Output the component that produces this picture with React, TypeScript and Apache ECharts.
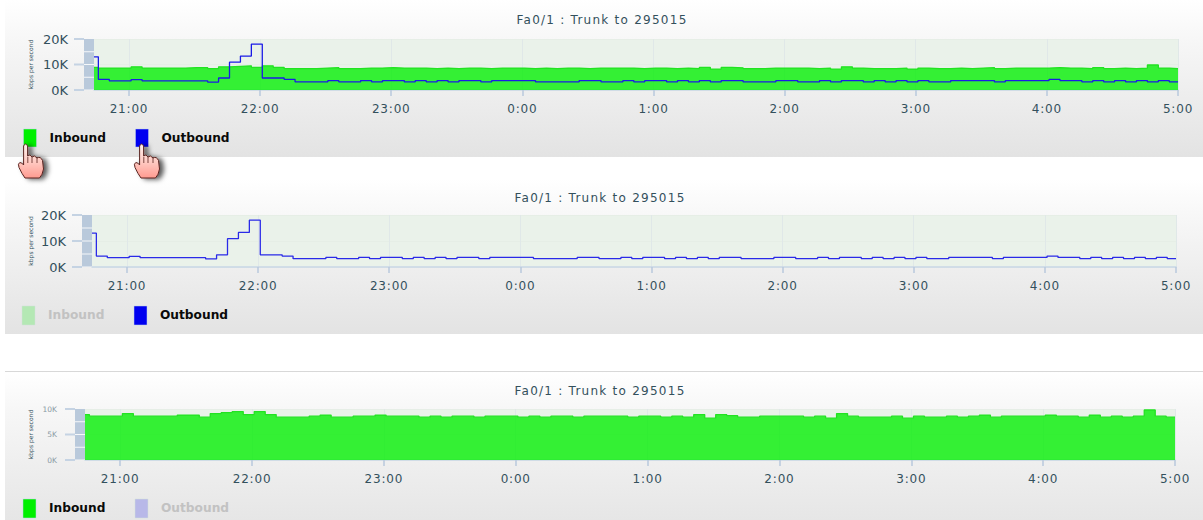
import React, { useEffect, useRef } from "react";
import * as echarts from "echarts";

const TITLE = "Fa0/1 : Trunk to 295015";
const Y_NAME = "kbps per second";
const SERIES_IN = "Inbound";
const SERIES_OUT = "Outbound";
const HOUR_TICKS = [0, 60, 120, 180, 240, 300, 360, 420, 480];
const HOUR_LABELS = ["21:00", "22:00", "23:00", "0:00", "1:00", "2:00", "3:00", "4:00", "5:00"];

// Left edge of every sample, minutes after 21:00 (first partial sample, then 5 minute samples)
const SAMPLE_MINUTES = [
  -16, -14, -9, -4, 1, 6, 11, 16, 21, 26, 31, 36, 41, 46, 51, 56, 61, 66, 71, 76, 81, 86, 91, 96, 101,
  106, 111, 116, 121, 126, 131, 136, 141, 146, 151, 156, 161, 166, 171, 176, 181, 186, 191, 196, 201,
  206, 211, 216, 221, 226, 231, 236, 241, 246, 251, 256, 261, 266, 271, 276, 281, 286, 291, 296, 301,
  306, 311, 316, 321, 326, 331, 336, 341, 346, 351, 356, 361, 366, 371, 376, 381, 386, 391, 396, 401,
  406, 411, 416, 421, 426, 431, 436, 441, 446, 451, 456, 461, 466, 471, 476, 480,
];

// kbps per second, in thousands
const INBOUND = [
  8.9, 8.6, 8.6, 8.6, 9.1, 8.6, 8.6, 8.6, 8.6, 8.8, 8.8, 8.4, 9.1, 9.3, 9.5, 8.9, 9.5, 8.9, 8.4, 8.4,
  8.4, 8.6, 8.8, 8.4, 8.4, 8.6, 8.6, 8.8, 8.6, 8.6, 8.6, 8.4, 8.6, 8.4, 8.6, 8.6, 8.4, 8.6, 8.6, 8.6,
  8.4, 8.6, 8.4, 8.6, 8.6, 8.4, 8.6, 8.6, 8.6, 8.6, 8.4, 8.6, 8.6, 8.4, 8.6, 8.4, 8.9, 8.2, 8.9, 8.7,
  8.4, 8.4, 8.6, 8.6, 8.6, 8.6, 8.4, 8.6, 8.2, 9.1, 8.6, 8.4, 8.4, 8.4, 8.6, 8.2, 8.6, 8.4, 8.4, 8.6,
  8.4, 8.6, 8.8, 8.4, 8.6, 8.6, 8.6, 8.6, 8.8, 8.6, 8.6, 8.4, 8.8, 8.4, 8.6, 8.4, 8.6, 9.8, 8.6, 8.4, 8.4,
];
const OUTBOUND = [
  13, 4.2, 3.6, 3.6, 4.1, 3.6, 3.6, 3.6, 3.6, 3.6, 3.6, 3.1, 4.7, 10.9, 13.3, 18, 4.7, 4.7, 4.2, 3.2,
  3.2, 3.2, 3.7, 3.2, 3.2, 3.7, 3.2, 3.7, 3.7, 3.2, 3.7, 3.2, 3.7, 3.2, 3.7, 3.7, 3.2, 3.7, 3.7, 3.7,
  3.7, 3.2, 3.2, 3.2, 3.2, 3.7, 3.7, 3.2, 3.2, 3.7, 3.2, 3.7, 3.7, 3.2, 3.7, 3.2, 3.7, 3.2, 3.7, 3.7,
  3.2, 3.2, 3.2, 3.7, 3.7, 3.2, 3.2, 3.7, 3.2, 3.7, 3.7, 3.2, 3.7, 3.2, 3.7, 3.2, 3.7, 3.2, 3.2, 3.7,
  3.7, 3.7, 3.7, 3.2, 3.7, 3.7, 3.7, 3.7, 4.2, 3.7, 3.7, 3.2, 3.7, 3.2, 3.7, 3.2, 3.7, 3.2, 3.7, 3.2, 3.2,
];

const FONT = '"DejaVu Sans", Verdana, sans-serif';
const TEXT_COLOR = "#33505c";

echarts.graphic.registerShape(
  "hand",
  echarts.graphic.extendPath(
    "M5.6 3 Q7.5 -1 9.6 3 L9.6 13 Q12 10.5 14 14 Q16.5 11.5 19 15 Q22.5 13 24.5 17.5 L25.5 26 Q24.5 32 21.5 35 L7 35 Q4 31 1 24.5 Q-0.5 20.5 1.8 19.5 Q4 19.5 5.6 22 Z",
    {}
  )
);

const xy = (vals: number[]) => SAMPLE_MINUTES.map((m, i) => [m, vals[i] * 1000]);

type Panel = { left: number; top: number; height: number; width: number; max: number; interval: number; labelColor: string; labelSize: number };
const PANELS: Panel[] = [
  { left: 94, top: 39, height: 51, width: 1084, max: 20000, interval: 10000, labelColor: TEXT_COLOR, labelSize: 13 },
  { left: 92, top: 215, height: 52, width: 1084, max: 20000, interval: 10000, labelColor: TEXT_COLOR, labelSize: 13 },
  { left: 85, top: 409, height: 51, width: 1090, max: 10000, interval: 5000, labelColor: "#8a9aa4", labelSize: 7.5 },
];

const backdrop = (y: number, h: number, bottom: string) => ({
  type: "rect",
  z: -10,
  silent: true,
  shape: { x: 5, y, width: 1198, height: h },
  style: {
    fill: new echarts.graphic.LinearGradient(0, 0, 0, 1, [
      { offset: 0, color: "#ffffff" },
      { offset: 0.25, color: "#f7f7f7" },
      { offset: 1, color: bottom },
    ]),
  },
});

// The blue-grey block left of each plot, with its white dividers, and the three tick stubs beside it
const strip = (p: Panel) => [
  {
    type: "rect",
    z: 9,
    silent: true,
    shape: { x: p.left - 10, y: p.top, width: 10, height: p.height },
    style: { fill: "#f6f8fa" },
  },
  ...[0, 1, 2, 3].map((i) => ({
    type: "rect",
    z: 10,
    silent: true,
    shape: { x: p.left - 10, y: p.top + (i * p.height) / 4 + (i ? 0.5 : 0), width: 10, height: p.height / 4 - (i ? 0.5 : 0) - 0.5 },
    style: { fill: "#b9c9db" },
  })),
  ...[0, 0.5, 1].map((f) => ({
    type: "rect",
    z: 10,
    silent: true,
    shape: { x: p.left - 20, y: p.top + f * p.height - 1, width: 10, height: 2 },
    style: { fill: "#c5d3e3" },
  })),
];

const legendEntry = (x: number, y: number, h: number, label: string, color: string, on: boolean) => [
  {
    type: "rect",
    z: 10,
    silent: true,
    shape: { x, y, width: 13, height: h },
    style: { fill: color, stroke: on ? "#bcd0e8" : "#d0e0d8", lineWidth: 0.5 },
  },
  {
    type: "text",
    z: 10,
    silent: true,
    x: x + 26,
    y: y + h / 2 - 0.5,
    style: {
      text: label,
      font: `bold 12.2px ${FONT}`,
      fill: on ? "#0a0a0a" : "#c2c2c2",
      textVerticalAlign: "middle",
      verticalAlign: "middle",
    },
  },
];

const hand = (x: number, y: number) => [
  {
    type: "hand",
    z: 11,
    silent: true,
    x,
    y,
    style: {
      fill: new echarts.graphic.LinearGradient(0, 0, 0, 1, [
        { offset: 0, color: "#fff2ee" },
        { offset: 0.55, color: "#ffc8c0" },
        { offset: 1, color: "#ff9a90" },
      ]),
      stroke: "#5a2420",
      lineWidth: 1,
      shadowBlur: 5,
      shadowOffsetX: 4,
      shadowOffsetY: 1,
      shadowColor: "rgba(0,0,0,0.65)",
    },
  },
  ...[9.8, 14, 19].map((dx) => ({
    type: "line",
    z: 12,
    silent: true,
    x,
    y,
    shape: { x1: dx, y1: 14, x2: dx, y2: 20 },
    style: { stroke: "#5a2420", lineWidth: 0.8 },
  })),
];

const baseSeries = (name: string, i: number, vals: number[], color: string, fill?: string) => ({
  name,
  type: "line",
  xAxisIndex: i,
  yAxisIndex: i,
  step: "end",
  showSymbol: false,
  symbol: "none",
  lineStyle: { color, width: 1.3 },
  itemStyle: { color },
  ...(fill ? { areaStyle: { color: fill, opacity: 1 } } : {}),
  data: xy(vals),
});

function buildOption() {
  return {
    animation: false,
    backgroundColor: "#ffffff",
    textStyle: { fontFamily: FONT },
    title: [15, 193, 386].map((t, i) => ({
      text: TITLE,
      left: i === 0 ? 597 : 595,
      top: t - 8,
      textAlign: "center",
      textStyle: { fontFamily: FONT, fontSize: 12.01, fontWeight: "normal", color: TEXT_COLOR, lineHeight: 16 },
    })),
    grid: PANELS.map((p) => ({
      left: p.left,
      top: p.top,
      width: p.width,
      height: p.height,
      show: true,
      borderWidth: 0,
      backgroundColor: "#eaf2ea",
    })),
    xAxis: PANELS.map((_, i) => ({
      type: "value",
      gridIndex: i,
      min: -16,
      max: 480,
      axisLine: { show: true, onZero: false, lineStyle: { color: "#c8d6e6", width: 1.5 } },
      axisTick: { show: true, length: 6, lineStyle: { color: "#b8c8dc", width: 1.5 }, customValues: HOUR_TICKS },
      splitLine: { show: true, lineStyle: { color: "#e0e8e8", width: 1 } },
      axisLabel: {
        customValues: HOUR_TICKS,
        margin: 13,
        fontFamily: FONT,
        fontSize: 12.02,
        color: TEXT_COLOR,
        showMinLabel: true,
        showMaxLabel: true,
        hideOverlap: false,
        formatter: (v: number) => HOUR_LABELS[HOUR_TICKS.indexOf(v)] ?? "",
      },
    })),
    yAxis: PANELS.map((p, i) => ({
      type: "value",
      gridIndex: i,
      min: 0,
      max: p.max,
      interval: p.interval,
      name: Y_NAME,
      nameLocation: "middle",
      nameRotate: 90,
      nameGap: p.left - 33,
      nameMoveOverlap: false,
      nameTextStyle: { fontFamily: FONT, fontSize: 6, color: "#33505c" },
      axisLine: { show: false, onZero: false },
      axisTick: { show: false },
      splitLine: { show: true, lineStyle: { color: "#e6eee6", width: 1 } },
      axisLabel: {
        margin: i === 2 ? 28 : 26,
        fontFamily: FONT,
        fontSize: p.labelSize,
        color: p.labelColor,
        formatter: (v: number) => `${v / 1000}K`,
      },
    })),
    series: [
      baseSeries(SERIES_IN, 0, INBOUND, "#22e222", "rgba(0,240,0,0.78)"),
      baseSeries(SERIES_OUT, 0, OUTBOUND, "#1a1ae6"),
      baseSeries(SERIES_OUT, 1, OUTBOUND, "#2a2ae8"),
      baseSeries(SERIES_IN, 2, INBOUND, "#22e222", "rgba(0,240,0,0.78)"),
    ],
    graphic: {
      elements: [
        backdrop(0, 157, "#e3e3e3"),
        backdrop(179, 155, "#e3e3e3"),
        backdrop(372, 148, "#e6e6e6"),
        { type: "rect", z: -9, silent: true, shape: { x: 5, y: 371, width: 1198, height: 1 }, style: { fill: "#d8d8d8" } },
        ...PANELS.flatMap(strip),
        ...legendEntry(23.5, 129, 18, SERIES_IN, "#00f000", true),
        ...legendEntry(135.5, 129, 18, SERIES_OUT, "#0000f0", true),
        ...legendEntry(22, 306, 19, SERIES_IN, "#b4e8b4", false),
        ...legendEntry(134, 306, 19, SERIES_OUT, "#0000f0", true),
        ...legendEntry(23, 499, 19, SERIES_IN, "#00f000", true),
        ...legendEntry(135, 499, 19, SERIES_OUT, "#b8b8e8", false),
        ...hand(18, 143),
        ...hand(134, 143),
      ],
    },
  };
}

const LETTER_SPACING_CSS = `
  text[style*="12.01px"] { letter-spacing: 1.25px; }
  text[style*="12.02px"] { letter-spacing: 0.8px; }
`;

export default function App() {
  const ref = useRef<HTMLDivElement>(null);
  useEffect(() => {
    document.body.style.margin = "0";
    const chart = echarts.init(ref.current!, undefined, { renderer: "svg" });
    chart.setOption(buildOption() as any);
    return () => chart.dispose();
  }, []);
  return (
    <>
      <style>{LETTER_SPACING_CSS}</style>
      <div ref={ref} style={{ width: 1203, height: 520 }} />
    </>
  );
}
